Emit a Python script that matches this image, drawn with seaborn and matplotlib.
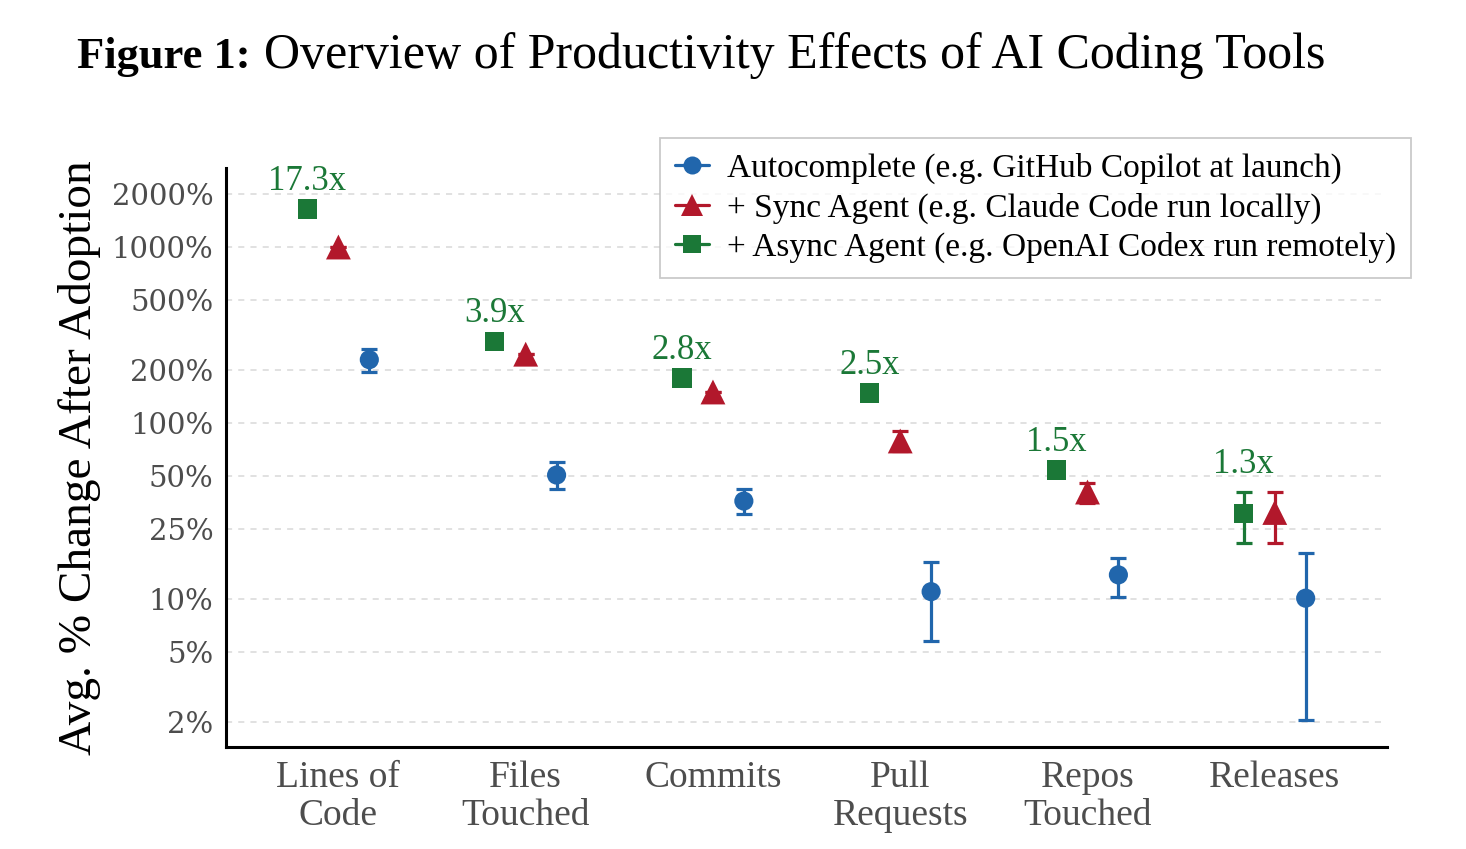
import numpy as np
import pandas as pd
import matplotlib
matplotlib.use('Agg')
import matplotlib.pyplot as plt
from matplotlib.lines import Line2D
import seaborn as sns

# datos (cambio % promedio, escala log)
categories = ['Lines of\nCode', 'Files\nTouched', 'Commits', 'Pull\nRequests', 'Repos\nTouched', 'Releases']
series = ['Autocomplete (e.g. GitHub Copilot at launch)',
          '+ Sync Agent (e.g. Claude Code run locally)',
          '+ Async Agent (e.g. OpenAI Codex run remotely)']

auto_val = [229, 50.6, 36, 11.0, 13.7, 10.1]
auto_lo = [196, 42, 30.4, 5.8, 10.3, 2.05]
auto_hi = [263, 60, 42, 16.2, 17.1, 18.3]

sync_val = [1000, 246, 150, 79, 40.5, 31]
sync_lo = [1000, 246, 150, 69, 35.1, 20.9]
sync_hi = [1000, 246, 150, 90, 45.6, 40.5]

async_val = [1644, 292, 180, 148, 54, 30.5]
async_lo = [1644, 292, 180, 148, 54, 20.9]
async_hi = [1644, 292, 180, 148, 54, 40.5]

ratio_labels = ['17.3x', '3.9x', '2.8x', '2.5x', '1.5x', '1.3x']

yticks = [2, 5, 10, 25, 50, 100, 200, 500, 1000, 2000]

colors = {series[0]: '#2166ac', series[1]: '#b2182b', series[2]: '#1b7837'}
markers = {series[0]: 'o', series[1]: '^', series[2]: 's'}
sizes = {series[0]: 190, series[1]: 320, series[2]: 190}
offsets = {series[0]: 0.165, series[1]: 0.0, series[2]: -0.165}

rows = []
for name, v, lo, hi in [(series[0], auto_val, auto_lo, auto_hi),
                        (series[1], sync_val, sync_lo, sync_hi),
                        (series[2], async_val, async_lo, async_hi)]:
    for i, c in enumerate(categories):
        rows.append({'cat': c, 'idx': i, 'series': name, 'value': v[i], 'lo': lo[i], 'hi': hi[i]})
df = pd.DataFrame(rows)
df['x'] = df['idx'] + df['series'].map(offsets)

sns.set_style('white')
plt.rcParams['font.family'] = ['Liberation Serif', 'DejaVu Serif']
plt.rcParams['text.color'] = 'black'

fig = plt.figure(figsize=(14.66, 8.49), dpi=100)
ax = fig.add_axes([0.1542, 0.1201, 0.792, 0.682])
ax.set_yscale('log')

# barras de error
for name in series:
    d = df[df['series'] == name]
    ax.errorbar(d['x'], d['value'], yerr=[d['value'] - d['lo'], d['hi'] - d['value']],
                fmt='none', ecolor=colors[name], elinewidth=2.3, capsize=6, capthick=2.3, zorder=2)

sns.scatterplot(data=df, x='x', y='value', hue='series', style='series', size='series',
                palette=colors, markers=markers, sizes=sizes, linewidth=0,
                legend=False, ax=ax, zorder=3)

# etiquetas de razon
d_async = df[df['series'] == series[2]].reset_index(drop=True)
for i, lab in enumerate(ratio_labels):
    top = max(d_async.loc[i, 'value'], d_async.loc[i, 'hi'])
    ax.annotate(lab, xy=(d_async.loc[i, 'x'], top), xytext=(0, 14), textcoords='offset points',
                ha='center', va='baseline', fontsize=25, color='#1b7837')

ax.set_xlim(-0.6, 5.6)
ax.set_ylim(1.44, 2812)
ax.set_xticks(range(len(categories)))
ax.set_xticklabels(categories, linespacing=1.12)
ax.set_yticks(yticks)
ax.set_yticklabels([f'{t}%' for t in yticks])
ax.minorticks_off()
ax.tick_params(axis='x', labelsize=27, labelcolor='#4d4d4d', length=5, width=1.3, color='#333333', pad=5)
ax.tick_params(axis='y', labelsize=21, labelcolor='#4d4d4d', length=5, width=1.3, color='#333333', pad=4)
for lab in ax.get_yticklabels():
    lab.set_family(['DejaVu Serif'])
ax.set_xlabel('')
ax.set_ylabel('Avg. % Change After Adoption', fontsize=34, labelpad=8, color='black')

ax.yaxis.grid(True, linestyle=(0, (4, 4)), color='#d9d9d9', linewidth=1.1)
ax.xaxis.grid(False)
ax.set_axisbelow(True)
for s in ['top', 'right']:
    ax.spines[s].set_visible(False)
for s in ['left', 'bottom']:
    ax.spines[s].set_linewidth(2.2)
    ax.spines[s].set_color('black')

handles = [Line2D([0], [0], color=colors[n], marker=markers[n], markersize=13 if n != series[1] else 16,
                  linewidth=2.3, markeredgewidth=0) for n in series]
leg = ax.legend(handles, series, loc='upper right', bbox_to_anchor=(1411 / 1466, 1 - 138 / 849),
                bbox_transform=fig.transFigure, borderaxespad=0, fontsize=24, frameon=True,
                fancybox=False, handlelength=1.0, handletextpad=0.55, labelspacing=0.25,
                borderpad=0.45)
leg.get_frame().set_edgecolor('#bdbdbd')
leg.get_frame().set_linewidth(1.3)
for t in leg.get_texts():
    t.set_color('black')

# titulo
fig.text(251 / 1466, 1 - 68 / 849, 'Figure 1:', fontsize=32, fontweight='bold', ha='right', va='baseline')
fig.text(264 / 1466, 1 - 68 / 849, 'Overview of Productivity Effects of AI Coding Tools',
         fontsize=36, ha='left', va='baseline')

fig.savefig('out.png', dpi=100)
